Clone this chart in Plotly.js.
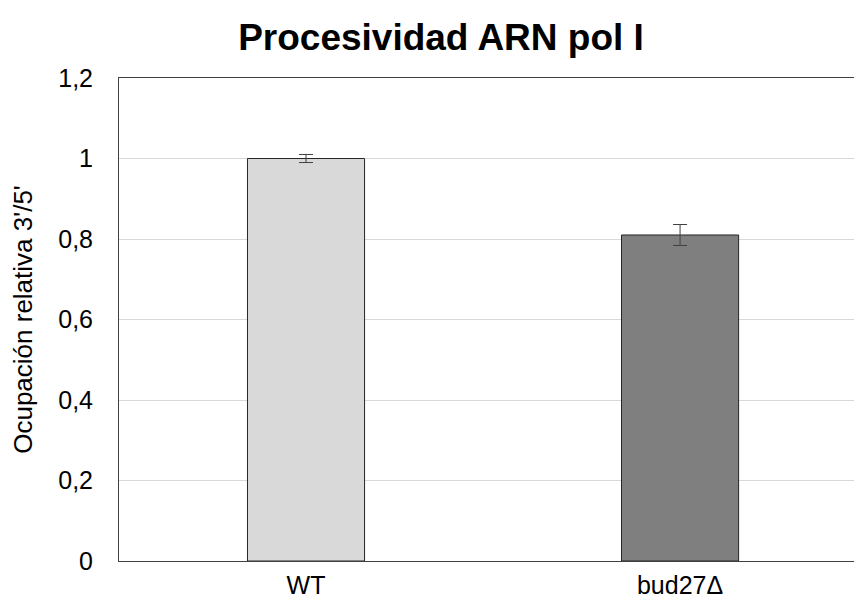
<!DOCTYPE html>
<html>
<head>
<meta charset="utf-8">
<script src="https://cdn.plot.ly/plotly-3.0.1.min.js"></script>
<style>html,body{margin:0;padding:0;overflow:hidden;background:#fff}</style>
</head>
<body>
<div id="chart" style="width:854px;height:605px"></div>
<script>
const categories = ["WT", "bud27Δ"];
const values = [1.0, 0.81];
const errors = [0.01, 0.026];
const barColors = ["#d9d9d9", "#7f7f7f"];
const yTickVals = [0, 0.2, 0.4, 0.6, 0.8, 1.0, 1.2];
const yTickText = ["0", "0,2", "0,4", "0,6", "0,8", "1", "1,2"];

const trace = {
  type: "bar",
  x: categories,
  y: values,
  width: 0.313,
  marker: {color: barColors, line: {color: "#262626", width: 1}},
  error_y: {type: "data", array: errors, visible: true, color: "#404040", thickness: 1, width: 7},
  hoverinfo: "none"
};

const layout = {
  width: 854, height: 605,
  margin: {l: 119, r: 0, t: 78, b: 44, pad: 0},
  paper_bgcolor: "#ffffff", plot_bgcolor: "#ffffff",
  font: {family: "Liberation Sans, Arial, sans-serif", color: "#000"},
  showlegend: false,
  title: {
    text: "<b>Procesividad ARN pol I</b>",
    font: {size: 37, family: "Liberation Sans, Arial, sans-serif", color: "#000"},
    x: 441/854, xref: "container", xanchor: "center",
    y: 1 - 37/605, yref: "container", yanchor: "middle"
  },
  xaxis: {
    type: "category",
    range: [-0.5, 1.465],
    showline: true, mirror: true, linecolor: "#404040", linewidth: 1,
    showgrid: false, zeroline: false, ticks: "",
    tickfont: {size: 25, color: "#000"},
    ticklabelstandoff: 2
  },
  yaxis: {
    range: [0, 1.2],
    tickvals: yTickVals, ticktext: yTickText,
    showline: true, linecolor: "#404040", linewidth: 1,
    showgrid: true, gridcolor: "#d9d9d9", gridwidth: 1,
    zeroline: false, ticks: "",
    tickfont: {size: 25, color: "#000"},
    ticklabelstandoff: 20,
    title: {text: "Ocupación relativa 3'/5'", font: {size: 26, color: "#000"}, standoff: 18}
  }
};

Plotly.newPlot("chart", [trace], layout, {staticPlot: true, displayModeBar: false});
</script>
</body>
</html>
